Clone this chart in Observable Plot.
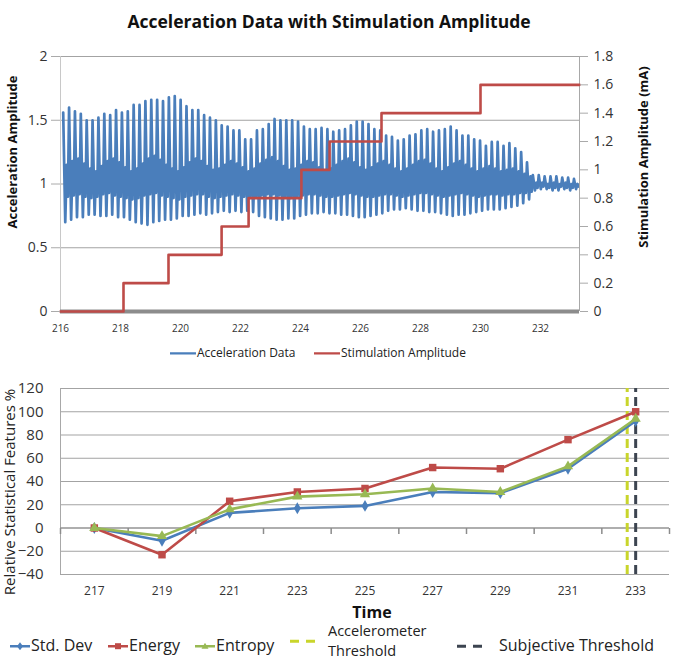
<!DOCTYPE html>
<html>
<head>
<meta charset="utf-8">
<script src="https://cdn.jsdelivr.net/npm/d3@7"></script>
<script src="https://cdn.jsdelivr.net/npm/@observablehq/plot@0.6"></script>
<style>
  body { margin: 0; background: #fff; }
  #page { position: relative; width: 686px; height: 660px; overflow: hidden; font-family: "Open Sans", sans-serif; color: #222; background: #fff; }
  #page > svg { position: absolute; left: 0; }
  .t { position: absolute; white-space: nowrap; line-height: 1; }
  .rot { transform: translate(-50%, -50%) rotate(-90deg); }
  .leg { position: absolute; display: flex; align-items: center; white-space: nowrap; }
  .leg svg { position: static; flex: none; }
  .two { display: flex; flex-direction: column; }
</style>
</head>
<body>
<div id="page"></div>
<script>
// ---------- Upper panel: accelerometer trace and stimulation current ----------
const xTicksTop = [216, 218, 220, 222, 224, 226, 228, 230, 232];
const xEndTop = 233.3;
const accelTicks = [0, 0.5, 1, 1.5, 2];
const stimTicks = [0, 0.2, 0.4, 0.6, 0.8, 1.0, 1.2, 1.4, 1.6, 1.8];

// stimulation current (mA) and the time each level switches on
const stimTimes = [216, 218.1, 219.6, 221.37, 222.27, 224.03, 224.97, 226.7, 230.0];
const stimLevels = [0, 0.2, 0.4, 0.6, 0.8, 1.0, 1.2, 1.4, 1.6];

// tremor cycles: start time and period of the oscillation
const cycleStart = 216.09;
const cyclePeriod = 0.1957;
// per-cycle extremes of the acceleration signal (g)
const accelPeak = [
  1.56, 1.60, 1.57, 1.55, 1.50, 1.50, 1.52, 1.55, 1.54, 1.58,
  1.56, 1.57, 1.62, 1.62, 1.65, 1.66, 1.66, 1.65, 1.68, 1.69,
  1.66, 1.61, 1.58, 1.58, 1.54, 1.52, 1.50, 1.46, 1.45, 1.42,
  1.42, 1.35, 1.35, 1.42, 1.43, 1.47, 1.51, 1.50, 1.50, 1.50,
  1.49, 1.45, 1.43, 1.43, 1.44, 1.43, 1.41, 1.42, 1.43, 1.46,
  1.49, 1.49, 1.47, 1.43, 1.42, 1.38, 1.37, 1.34, 1.35, 1.38,
  1.39, 1.42, 1.43, 1.41, 1.42, 1.43, 1.45, 1.42, 1.38, 1.38,
  1.35, 1.34, 1.30, 1.33, 1.33, 1.30, 1.32, 1.28, 1.25, 1.17,
  1.07, 1.07, 1.06, 1.06, 1.06, 1.05, 1.05, 1.04
];
const accelTrough = [
  0.70, 0.72, 0.74, 0.74, 0.76, 0.76, 0.75, 0.75, 0.76, 0.74,
  0.74, 0.72, 0.70, 0.69, 0.68, 0.70, 0.71, 0.72, 0.72, 0.73,
  0.75, 0.75, 0.76, 0.77, 0.76, 0.77, 0.78, 0.79, 0.78, 0.79,
  0.78, 0.79, 0.78, 0.75, 0.74, 0.73, 0.72, 0.72, 0.73, 0.73,
  0.75, 0.76, 0.77, 0.77, 0.78, 0.77, 0.77, 0.76, 0.76, 0.75,
  0.74, 0.74, 0.75, 0.76, 0.77, 0.79, 0.80, 0.80, 0.81, 0.80,
  0.79, 0.79, 0.78, 0.78, 0.77, 0.76, 0.75, 0.76, 0.76, 0.77,
  0.78, 0.79, 0.80, 0.80, 0.80, 0.81, 0.82, 0.83, 0.85, 0.88,
  0.95, 0.96, 0.96, 0.95, 0.95, 0.96, 0.95, 0.96
];
const accelMid = [
  1.15, 1.18, 1.20, 1.16, 1.12, 1.10, 1.14, 1.18, 1.20, 1.17,
  1.13, 1.10, 1.12, 1.16, 1.20, 1.22, 1.19, 1.15, 1.12, 1.10,
  1.13, 1.17, 1.20, 1.18, 1.14, 1.11, 1.12, 1.15, 1.18, 1.16,
  1.13, 1.10, 1.12, 1.16, 1.19, 1.21, 1.18, 1.14, 1.11, 1.12,
  1.15, 1.18, 1.17, 1.13, 1.10, 1.12, 1.15, 1.18, 1.20, 1.17,
  1.13, 1.11, 1.13, 1.16, 1.18, 1.15, 1.12, 1.10, 1.12, 1.15,
  1.18, 1.19, 1.16, 1.12, 1.10, 1.13, 1.16, 1.18, 1.15, 1.12,
  1.10, 1.12, 1.14, 1.12, 1.10, 1.11, 1.12, 1.10, 1.08, 1.06,
  1.01, 1.01, 1.00, 1.01, 1.00, 1.01, 1.00, 1.00
];
const accelDip = [
  0.90, 0.91, 0.92, 0.90, 0.89, 0.90, 0.92, 0.93, 0.91, 0.90,
  0.89, 0.88, 0.89, 0.91, 0.92, 0.93, 0.91, 0.90, 0.89, 0.88,
  0.90, 0.91, 0.92, 0.92, 0.90, 0.89, 0.90, 0.91, 0.92, 0.91,
  0.90, 0.89, 0.90, 0.91, 0.92, 0.92, 0.91, 0.90, 0.89, 0.90,
  0.91, 0.92, 0.92, 0.91, 0.90, 0.90, 0.91, 0.92, 0.93, 0.92,
  0.91, 0.90, 0.90, 0.91, 0.92, 0.92, 0.91, 0.90, 0.91, 0.92,
  0.93, 0.93, 0.92, 0.91, 0.90, 0.91, 0.92, 0.93, 0.92, 0.91,
  0.90, 0.91, 0.92, 0.92, 0.91, 0.92, 0.92, 0.93, 0.93, 0.94,
  0.97, 0.98, 0.97, 0.97, 0.98, 0.97, 0.97, 0.98
];

// ---------- Lower panel: relative statistical features ----------
const timeCats = [217, 219, 221, 223, 225, 227, 229, 231, 233];
const stdDev  = [0, -11, 13, 17, 19, 31, 30, 51, 92];
const energy  = [0, -23, 23, 31, 34, 52, 51, 76, 100];
const entropy = [0, -7, 16, 27, 29, 34, 31, 53, 94];
const featTicks = [-40, -20, 0, 20, 40, 60, 80, 100, 120];
const bandEdges = [216, 218, 220, 222, 224, 226, 228, 230, 232, 234];
const accelThreshold = 232.75;
const subjectiveThreshold = 233;

const BLUE = "#4a7ebb", RED = "#be4b48", GREEN = "#98b954";
const YELLOW = "#c9d52b", DARK = "#3c4450", GRID = "#a3a3a3";

const page = document.getElementById("page");
const fmt = d3.format("~g");

// accelerometer signal, four extremes per cycle
const accel = [];
accelPeak.forEach((hi, i) => {
  const t = cycleStart + i * cyclePeriod;
  accel.push({t, v: hi});
  accel.push({t: t + 0.35 * cyclePeriod, v: accelTrough[i]});
  accel.push({t: t + 0.6 * cyclePeriod, v: accelMid[i]});
  accel.push({t: t + 0.8 * cyclePeriod, v: accelDip[i]});
});

// stimulation steps, drawn against the right-hand (mA) axis
const k = accelTicks[accelTicks.length - 1] / stimTicks[stimTicks.length - 1];
const stim = stimTimes.map((t, i) => ({t, s: stimLevels[i]}));
stim.push({t: xEndTop, s: stimLevels[stimLevels.length - 1]});

const topChart = Plot.plot({
  width: 686,
  height: 345,
  marginLeft: 60,
  marginRight: 107,
  marginTop: 56,
  marginBottom: 34,
  style: {fontFamily: "Open Sans, sans-serif", color: "#333", background: "transparent"},
  x: {domain: [216, xEndTop]},
  y: {domain: [0, 2]},
  marks: [
    Plot.ruleY(accelTicks.filter(d => d > 0), {stroke: GRID, strokeWidth: 1}),
    Plot.ruleX([216], {stroke: "#c8c8c8"}),
    Plot.ruleX([xEndTop], {stroke: "#a8a8a8"}),
    Plot.ruleY([0], {stroke: "#8c8c8c", strokeWidth: 4}),
    Plot.line(accel, {x: "t", y: "v", stroke: BLUE, strokeWidth: 2.7, clip: true}),
    Plot.line(stim, {x: "t", y: d => d.s * k, curve: "step-after", stroke: RED, strokeWidth: 2.6}),
    Plot.axisY({ticks: accelTicks, tickFormat: fmt, tickSize: 9, tickPadding: 4, fontSize: 14, stroke: "#aaa", label: null}),
    Plot.axisY({anchor: "right", ticks: stimTicks.map(d => d * k), tickFormat: d => fmt(+(d / k).toFixed(2)),
                tickSize: 8, tickPadding: 6, fontSize: 14, stroke: "#aaa", label: null}),
    Plot.axisX({ticks: xTicksTop, tickSize: 0, tickPadding: 13, fontSize: 10, label: null})
  ]
});
topChart.style.top = "0px";
page.appendChild(topChart);

// lower panel
const rows = (vals) => timeCats.map((t, i) => ({t, v: vals[i]}));
const tickDown = {draw(ctx) { ctx.moveTo(0, 0); ctx.lineTo(0, 6); }};

const bottomChart = Plot.plot({
  width: 686,
  height: 240,
  marginLeft: 60,
  marginRight: 17,
  marginTop: 18,
  marginBottom: 36,
  style: {fontFamily: "Open Sans, sans-serif", color: "#333", background: "transparent"},
  x: {domain: [216, 234]},
  y: {domain: [-40, 120]},
  marks: [
    Plot.ruleY(featTicks, {stroke: GRID, strokeWidth: 1}),
    Plot.ruleX([216], {stroke: "#a8a8a8"}),
    Plot.ruleY([0], {stroke: "#8c8c8c", strokeWidth: 1.2}),
    Plot.dot(bandEdges, {x: d => d, y: 0, symbol: tickDown, stroke: "#8c8c8c", fill: "none", r: 3}),
    Plot.ruleX([accelThreshold], {y1: -40, y2: 120, stroke: YELLOW, strokeWidth: 3, strokeDasharray: "9,5"}),
    Plot.ruleX([subjectiveThreshold], {y1: -40, y2: 120, stroke: DARK, strokeWidth: 3, strokeDasharray: "9,5"}),
    Plot.line(rows(stdDev), {x: "t", y: "v", stroke: BLUE, strokeWidth: 2.6}),
    Plot.dot(rows(stdDev), {x: "t", y: "v", symbol: "diamond", fill: BLUE, r: 3.6}),
    Plot.line(rows(energy), {x: "t", y: "v", stroke: RED, strokeWidth: 2.6}),
    Plot.dot(rows(energy), {x: "t", y: "v", symbol: "square", fill: RED, r: 4.2}),
    Plot.line(rows(entropy), {x: "t", y: "v", stroke: GREEN, strokeWidth: 2.6}),
    Plot.dot(rows(entropy), {x: "t", y: "v", symbol: "triangle", fill: GREEN, r: 3.8}),
    Plot.axisY({ticks: featTicks, tickSize: 0, tickPadding: 17, fontSize: 15, label: null}),
    Plot.axisX({ticks: timeCats, tickSize: 0, tickPadding: 12, fontSize: 12, label: null})
  ]
});
bottomChart.style.top = "370px";
page.appendChild(bottomChart);

// ---------- titles, axis names and legends ----------
function text(str, css, cls = "t") {
  const d = document.createElement("div");
  d.className = cls;
  d.textContent = str;
  Object.assign(d.style, css);
  page.appendChild(d);
  return d;
}
text("Acceleration Data with Stimulation Amplitude",
  {left: "329px", top: "22px", transform: "translate(-50%,-50%)", fontWeight: "bold", fontSize: "17.5px", color: "#111"});
text("Acceleration Amplitude", {left: "12px", top: "152px", fontWeight: "bold", fontSize: "13px", color: "#111"}, "t rot");
text("Stimulation Amplitude (mA)", {left: "643px", top: "157px", fontWeight: "bold", fontSize: "13px", color: "#111"}, "t rot");
text("Relative Statistical Features %", {left: "9px", top: "492px", fontSize: "15px", color: "#222"}, "t rot");
text("Time", {left: "372px", top: "612px", transform: "translate(-50%,-50%)", fontWeight: "bold", fontSize: "16px", color: "#111"});

function swatch(color, opts = {}) {
  const w = opts.w || 26;
  let s = `<svg width="${w}" height="12" viewBox="0 0 ${w} 12">`;
  s += `<line x1="0" x2="${w}" y1="6" y2="6" stroke="${color}" stroke-width="${opts.sw || 2.4}"${opts.dash ? ` stroke-dasharray="${opts.dash}"` : ""}/>`;
  if (opts.marker === "square") s += `<rect x="${w/2-3}" y="3" width="6" height="6" fill="${color}"/>`;
  if (opts.marker === "diamond") s += `<path d="M${w/2},2 L${w/2+3},6 L${w/2},10 L${w/2-3},6Z" fill="${color}"/>`;
  if (opts.marker === "triangle") s += `<path d="M${w/2},2.5 L${w/2+3.5},8.5 L${w/2-3.5},8.5Z" fill="${color}"/>`;
  return s + "</svg>";
}
function legendItem(x, y, sw, lines, fontSize, gap = 1, lh = 1.1) {
  const d = document.createElement("div");
  d.className = "leg";
  d.style.left = x + "px";
  d.style.top = y + "px";
  d.style.transform = "translateY(-50%)";
  d.style.fontSize = fontSize + "px";
  d.style.color = "#222";
  const body = [].concat(lines).map(s => `<span style="line-height:${lh}">${s}</span>`).join("");
  d.innerHTML = sw + `<span class="two" style="margin-left:${gap}px">${body}</span>`;
  page.appendChild(d);
}
legendItem(170, 353, swatch(BLUE, {w: 26, sw: 2.2}), "Acceleration Data", 12);
legendItem(314, 353, swatch(RED, {w: 26, sw: 2.2}), "Stimulation Amplitude", 12);

legendItem(10, 646, swatch(BLUE, {w: 20, marker: "diamond"}), "Std. Dev", 16);
legendItem(108, 646, swatch(RED, {w: 20, marker: "square"}), "Energy", 16);
legendItem(195, 646, swatch(GREEN, {w: 20, marker: "triangle"}), "Entropy", 16);
legendItem(290, 641, swatch(YELLOW, {w: 30, sw: 3, dash: "9,7"}), ["Accelerometer", "Threshold"], 14.5, 8, 1.37);
legendItem(457, 646, swatch(DARK, {w: 30, sw: 3, dash: "9,7"}), "Subjective Threshold", 16, 12);
</script>
</body>
</html>
